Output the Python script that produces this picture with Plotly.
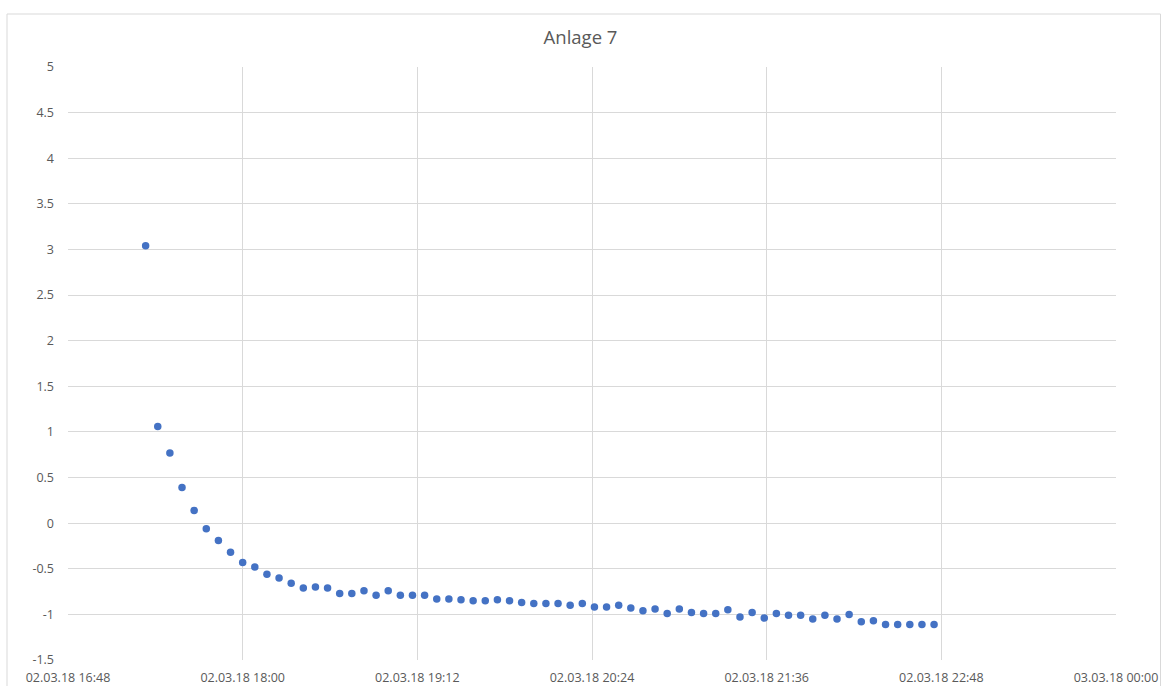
import plotly.graph_objects as go

times = [
    "17:20", "17:25", "17:30", "17:35", "17:40", "17:45", "17:50", "17:55",
    "18:00", "18:05", "18:10", "18:15", "18:20", "18:25", "18:30", "18:35", "18:40", "18:45", "18:50", "18:55",
    "19:00", "19:05", "19:10", "19:15", "19:20", "19:25", "19:30", "19:35", "19:40", "19:45", "19:50", "19:55",
    "20:00", "20:05", "20:10", "20:15", "20:20", "20:25", "20:30", "20:35", "20:40", "20:45", "20:50", "20:55",
    "21:00", "21:05", "21:10", "21:15", "21:20", "21:25", "21:30", "21:35", "21:40", "21:45", "21:50", "21:55",
    "22:00", "22:05", "22:10", "22:15", "22:20", "22:25", "22:30", "22:35", "22:40", "22:45",
]
values = [
    3.04, 1.06, 0.77, 0.39, 0.14, -0.06, -0.19, -0.32,
    -0.43, -0.48, -0.56, -0.60, -0.66, -0.71, -0.70, -0.71, -0.77, -0.77, -0.74, -0.79,
    -0.74, -0.79, -0.79, -0.79, -0.83, -0.83, -0.84, -0.85, -0.85, -0.84, -0.85, -0.87,
    -0.88, -0.88, -0.88, -0.90, -0.88, -0.92, -0.92, -0.90, -0.93, -0.96, -0.94, -0.99,
    -0.94, -0.98, -0.99, -0.99, -0.95, -1.03, -0.98, -1.04, -0.99, -1.01, -1.01, -1.05,
    -1.01, -1.05, -1.00, -1.08, -1.07, -1.11, -1.11, -1.11, -1.11, -1.11,
]
y_ticks = [-1.5, -1, -0.5, 0, 0.5, 1, 1.5, 2, 2.5, 3, 3.5, 4, 4.5, 5]
date = "2018-03-02"
x_start = "2018-03-02 16:48"
x_end = "2018-03-03 00:00"
title = "Anlage 7"

x = [f"{date} {t}" for t in times]

grid = "#d9d9d9"
txt = "#595959"

fig = go.Figure()
fig.add_trace(go.Scatter(
    x=x, y=values, mode="markers",
    marker=dict(color="#4472C4", size=7.5, line=dict(width=0)),
))

fig.update_layout(
    width=1161, height=686,
    paper_bgcolor="white", plot_bgcolor="white",
    margin=dict(l=68, r=45, t=67, b=26, autoexpand=False),
    showlegend=False,
    title=dict(text=title, x=0.5, xanchor="center", y=1 - 38 / 686, yanchor="middle",
               font=dict(family="Open Sans", size=18.5, color=txt)),
    font=dict(family="Open Sans", size=12.5, color=txt),
    xaxis=dict(
        type="date", range=[x_start, x_end], tick0=x_start, dtick=72 * 60 * 1000,
        tickformat="%d.%m.%y %H:%M", showgrid=True, gridcolor=grid, gridwidth=1,
        showline=False, zeroline=False, ticks="", ticklabelstandoff=8,
        tickfont=dict(size=12.5, color=txt), automargin=False,
    ),
    yaxis=dict(
        range=[-1.5, 5], tickmode="array", tickvals=y_ticks, ticktext=[f"{v:g}" for v in y_ticks],
        showgrid=True, gridcolor=grid, gridwidth=1,
        zeroline=True, zerolinecolor=grid, zerolinewidth=1, showline=False, ticks="",
        ticklabelstandoff=13, tickfont=dict(size=12.5, color=txt), automargin=False,
    ),
    shapes=[dict(type="rect", xref="paper", yref="paper",
                 x0=-61 / 1048, x1=1 + 44.5 / 1048, y0=-40 / 593, y1=1 + 53 / 593,
                 line=dict(color="#d9d9d9", width=1), fillcolor="rgba(0,0,0,0)", layer="below")],
)

fig.write_html("out.html", config={"displayModeBar": False},
               post_script="document.body.style.margin='0';")
